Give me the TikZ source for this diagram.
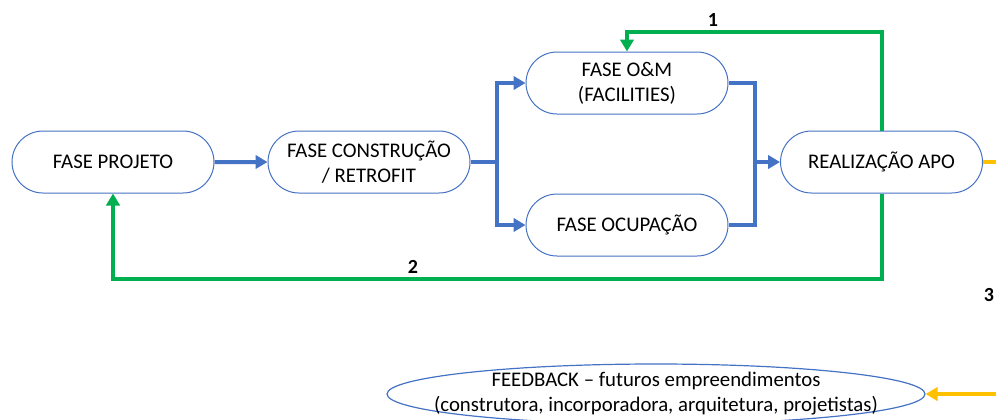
\documentclass[tikz,border=0pt]{standalone}
\usepackage{fontspec}
\setmainfont{Carlito}
\usetikzlibrary{shapes.misc, shapes.geometric, arrows.meta, positioning}
\definecolor{phaseblue}{HTML}{4472C4}
\definecolor{loopgreen}{HTML}{00B050}
\definecolor{outorange}{HTML}{FFC000}

\begin{document}
\begin{tikzpicture}[x=0.75pt, y=-0.75pt, node distance=39.75pt,
    font=\fontsize{15.6}{18.75}\selectfont,
    phase/.style={draw=phaseblue, line width=0.75pt, rounded rectangle,
        minimum width=151.5pt, minimum height=46.5pt, inner sep=0pt, align=center},
    flow/.style={draw=phaseblue, line width=3pt},
    flowarrow/.style={flow, -{Triangle[length=9pt, width=10pt]}},
    loopline/.style={draw=loopgreen, line width=3pt, -{Triangle[length=9pt, width=10pt]}},
    outline/.style={draw=outorange, line width=3pt},
    num/.style={font=\fontsize{15}{17}\selectfont\bfseries}]
    \useasboundingbox (0,0) rectangle (996,419);

    % main chain of phases
    \node[phase] (proj) at (113,162) {FASE PROJETO};
    \node[phase, right=of proj] (constr) {FASE CONSTRUÇÃO\\/ RETROFIT};
    \node[phase] (om) at (627,83) {FASE O\&M\\(FACILITIES)};
    \node[phase] (ocup) at (627,225) {FASE OCUPAÇÃO};
    \node[phase] (apo) at (881.5,162) {REALIZAÇÃO APO};
    \node[draw=phaseblue, line width=0.9pt, ellipse, minimum width=403.5pt,
        minimum height=45pt, inner xsep=-40pt, inner ysep=-4pt, align=center,
        font=\fontsize{15.6}{18.75}\selectfont] (fbk) at (656,394)
        {FEEDBACK – futuros empreendimentos\\(construtora, incorporadora, arquitetura, projetistas)};

    % split and merge points
    \coordinate (split) at (497,162);
    \coordinate (merge) at (755,162);
    \draw[flowarrow] (proj) -- (constr);
    \draw[flow] (constr.east) -- (split);
    \draw[flowarrow] (split) |- (om.west);
    \draw[flowarrow] (split) |- (ocup.west);
    \draw[flow] (om.east) -| (merge) |- (ocup.east);
    \draw[flowarrow] (merge) -- (apo.west);

    % feedback loops
    \coordinate (up1) at (881.5,32);
    \coordinate (down2) at (881.5,279);
    \draw[loopline] (apo.north) -- (up1) -| (om.north);
    \draw[loopline] (apo.south) -- (down2) -| (proj.south);
    \node[num] (n1) at (713,20) {1};
    \node[num] (n2) at (413,267) {2};

    % output to the right
    \coordinate (out3) at (1005,162);
    \coordinate (in3) at (fbk.east -| out3);
    \draw[outline] (apo.east) -- (out3);
    \draw[outline, -{Triangle[length=9pt, width=10pt]}] (in3) -- (fbk.east);
    \node[num] (n3) at (989,295) {3};
\end{tikzpicture}
\end{document}
